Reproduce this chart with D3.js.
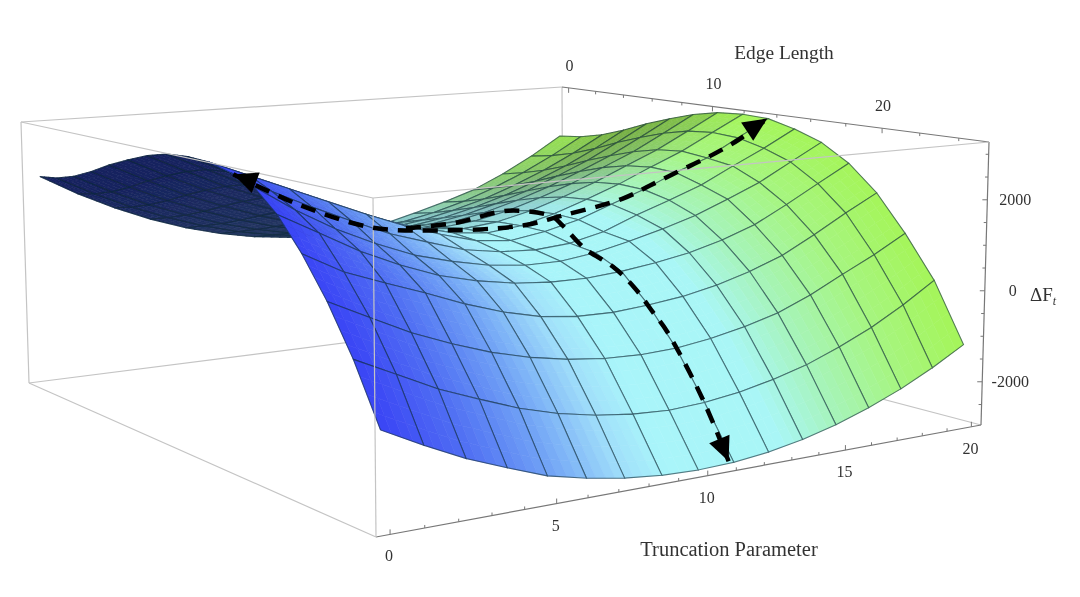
<!DOCTYPE html>
<html>
<head>
<meta charset="utf-8">
<script src="https://cdn.jsdelivr.net/npm/d3@7"></script>
<style>
  body { margin: 0; background: #fff; }
  text { font-family: "Liberation Serif", serif; fill: #333; }
</style>
</head>
<body>
<svg id="chart" width="1080" height="597"></svg>
<script>
// Truncation parameter along one side, edge length along the other
const truncation = d3.range(17).map(i => i * 1.25);
const edgeLength = d3.range(17).map(j => j * 1.5625);

// Delta F, one row per edge length, one column per truncation value
const deltaF = [
  [1980, 1500, 1085, 732, 443, 219, 58, -38, -70, -38, 58, 260, 480, 732, 1085, 1500, 1980],
  [2050, 1607, 1217, 886, 609, 390, 227, 127, 90, 127, 227, 390, 609, 886, 1217, 1607, 2050],
  [2190, 1763, 1383, 1061, 780, 564, 392, 281, 240, 281, 392, 564, 780, 1061, 1383, 1763, 2190],
  [2400, 1976, 1592, 1268, 981, 748, 563, 438, 390, 438, 563, 748, 981, 1268, 1592, 1976, 2400],
  [2650, 2224, 1829, 1501, 1199, 949, 745, 607, 550, 607, 745, 949, 1199, 1501, 1829, 2224, 2650],
  [2860, 2441, 2047, 1718, 1407, 1149, 929, 772, 710, 772, 929, 1149, 1407, 1718, 2047, 2441, 2860],
  [3050, 2637, 2239, 1912, 1589, 1317, 1081, 911, 840, 911, 1081, 1317, 1589, 1912, 2239, 2637, 3050],
  [3180, 2777, 2381, 2055, 1727, 1443, 1193, 1009, 930, 1009, 1193, 1443, 1727, 2055, 2381, 2777, 3180],
  [3220, 2830, 2439, 2121, 1785, 1497, 1234, 1034, 950, 1034, 1234, 1497, 1785, 2121, 2439, 2830, 3220],
  [3200, 2850, 2500, 2150, 1800, 1480, 1205, 980, 900, 1020, 1210, 1490, 1760, 2090, 2370, 2790, 3195],
  [3080, 2620, 2220, 1850, 1500, 1236, 987, 856, 813, 875, 1055, 1355, 1620, 1900, 2275, 2630, 3030],
  [2900, 2350, 1880, 1500, 1170, 950, 780, 690, 690, 790, 960, 1155, 1380, 1680, 1995, 2400, 2800],
  [2450, 2000, 1550, 1180, 875, 670, 530, 460, 450, 510, 610, 745, 945, 1210, 1590, 2000, 2405],
  [1800, 1350, 1040, 745, 430, 165, -30, -125, -140, -80, 10, 160, 370, 640, 1020, 1435, 1820],
  [1010, 600, 200, -120, -400, -610, -760, -850, -880, -850, -750, -600, -400, -105, 260, 610, 1010],
  [60, -335, -730, -1045, -1345, -1570, -1725, -1825, -1866, -1825, -1725, -1572, -1370, -1090, -770, -375, 80],
  [-1085, -1500, -1880, -2190, -2480, -2660, -2795, -2875, -2900, -2875, -2795, -2660, -2475, -2235, -1945, -1600, -1200]
];

const truncationTicks = [0, 5, 10, 15, 20];
const edgeTicks = [0, 10, 20];
const deltaTicks = [-2000, 0, 2000];

// Dashed paths over the surface, as truncation, edge length
const pathAcross = [[0, 15.8], [1.9, 16], [4.4, 15.6], [7.5, 13.2], [11.25, 12.5], [12.5, 13], [14.2, 14], [15.3, 14], [16.4, 14.06], [17.6, 14.06], [18.75, 14.2], [20, 14]];
const pathDown = [[9.5, 7.8], [11, 8.5], [12.5, 9.4], [12.3, 12.7], [11.9, 14.06], [11.25, 16.6], [11.2, 18.3], [11.25, 19.5], [11.25, 20.6], [11.3, 21.3], [11.25, 23.3], [11.1, 24.95]];

// Camera: where the corners of the plot box landed in the picture
const floorCorners = [[29, 383], [563, 315], [981, 425], [376, 537]];
const roofCorners = [[21, 122], [562, 87], [989, 142], [373, 198]];

const xScale = d3.scaleLinear().domain([-0.4, 20.4]).range([0, 1]);
const yScale = d3.scaleLinear().domain([-0.5, 25.5]).range([0, 1]);
const zScale = d3.scaleLinear().domain([-2950, 3270]).range([0, 1]);

// Square to quad homography, corners in order (0,0) (1,0) (1,1) (0,1)
function quadMap(q) {
  const dx1 = q[1][0] - q[2][0], dx2 = q[3][0] - q[2][0], sx = q[0][0] - q[1][0] + q[2][0] - q[3][0];
  const dy1 = q[1][1] - q[2][1], dy2 = q[3][1] - q[2][1], sy = q[0][1] - q[1][1] + q[2][1] - q[3][1];
  const den = dx1 * dy2 - dx2 * dy1;
  const g = (sx * dy2 - dx2 * sy) / den, h = (dx1 * sy - sx * dy1) / den;
  const a = q[1][0] - q[0][0] + g * q[1][0], b = q[3][0] - q[0][0] + h * q[3][0];
  const d = q[1][1] - q[0][1] + g * q[1][1], e = q[3][1] - q[0][1] + h * q[3][1];
  return (u, v) => {
    const w = g * u + h * v + 1;
    return [(a * u + b * v + q[0][0]) / w, (d * u + e * v + q[0][1]) / w];
  };
}
const floorMap = quadMap(floorCorners);
const roofMap = quadMap(roofCorners);

function project(x, y, z) {
  const u = xScale(x), v = yScale(y), t = zScale(z);
  const p0 = floorMap(u, v), p1 = roofMap(u, v);
  return [p0[0] + (p1[0] - p0[0]) * t, p0[1] + (p1[1] - p0[1]) * t];
}

// Height anywhere on the mesh, used for the sub-patches and the dashed paths
function heightAt(x, y) {
  const i = Math.min(15, Math.floor(x / 1.25)), j = Math.min(15, Math.floor(y / 1.5625));
  const a = x / 1.25 - i, b = y / 1.5625 - j;
  return (1 - b) * ((1 - a) * deltaF[j][i] + a * deltaF[j][i + 1]) + b * ((1 - a) * deltaF[j + 1][i] + a * deltaF[j + 1][i + 1]);
}

const colorScale = d3.scaleLinear()
  .domain([0, 2.5, 5, 7.5, 9, 13, 15, 17.5, 20])
  .range(['#3a44f5', '#4f6ef3', '#6fa0f5', '#a0dffa', '#a9f5fa', '#a9f6f6', '#a6f4bc', '#a6f580', '#a5f55a']);
const underScale = d3.scaleLinear().domain([0, 10]).range(['#141f5e', '#2a4060']);
const shadeScale = d3.scaleLinear().domain([0, 150]).range([1, 0.72]).clamp(true);

const svg = d3.select('#chart');
svg.append('defs').append('filter').attr('id', 'soft')
  .append('feGaussianBlur').attr('stdDeviation', 0.45);
const root = svg.append('g').attr('filter', 'url(#soft)');
root.append('rect').attr('width', 1080).attr('height', 597).attr('fill', '#fff');
const line = d3.line();
const boxBack = root.append('g');
const surface = root.append('g');
const boxFront = root.append('g');
const labels = root.append('g');

const xr = xScale.domain(), yr = yScale.domain(), zr = zScale.domain();
function edge(g, a, b, color) {
  g.append('path').attr('d', line([project(...a), project(...b)]))
    .attr('fill', 'none').attr('stroke', color).attr('stroke-width', 1.2);
}
// Far edges first
const pale = '#c4c4c4', dark = '#777';
edge(boxBack, [xr[0], yr[0], zr[0]], [xr[1], yr[0], zr[0]], pale);
edge(boxBack, [xr[1], yr[0], zr[0]], [xr[1], yr[1], zr[0]], pale);
edge(boxBack, [xr[1], yr[0], zr[0]], [xr[1], yr[0], zr[1]], pale);
edge(boxBack, [xr[0], yr[0], zr[1]], [xr[1], yr[0], zr[1]], pale);
edge(boxBack, [xr[0], yr[0], zr[0]], [xr[0], yr[0], zr[1]], pale);
edge(boxBack, [xr[0], yr[0], zr[0]], [xr[0], yr[1], zr[0]], pale);
edge(boxBack, [xr[1], yr[0], zr[1]], [xr[1], yr[1], zr[1]], dark);
edge(boxBack, [xr[0], yr[1], zr[0]], [xr[1], yr[1], zr[0]], dark);
edge(boxBack, [xr[1], yr[1], zr[0]], [xr[1], yr[1], zr[1]], dark);

// Painter's order: far corner of the grid first
const orient = Math.sign(d3.polygonArea([project(0, 0, 0), project(1, 0, 0), project(1, 1, 0), project(0, 1, 0)]));
const steps = 4;
for (let j = 0; j < 16; j++) {
  for (let i = 15; i >= 0; i--) {
    const dx = 1.25 / steps, dy = 1.5625 / steps;
    for (let b = 0; b < steps; b++) {
      for (let a = steps - 1; a >= 0; a--) {
        const x0 = truncation[i] + a * dx, y0 = edgeLength[j] + b * dy;
        const x1 = x0 + dx, y1 = y0 + dy;
        const z00 = heightAt(x0, y0), z10 = heightAt(x1 - 1e-6, y0), z11 = heightAt(x1 - 1e-6, y1 - 1e-6), z01 = heightAt(x0, y1 - 1e-6);
        const pts = [project(x0, y0, z00), project(x1, y0, z10), project(x1, y1, z11), project(x0, y1, z01)];
        const facing = Math.sign(d3.polygonArea(pts)) === orient;
        const slope = ((z01 + z11) - (z00 + z10)) / 2 / dy;
        const mid = (x0 + x1) / 2;
        const fill = facing
          ? d3.interpolateRgb('#000', colorScale(mid))(shadeScale(slope))
          : underScale(mid);
        surface.append('path').attr('d', line(pts) + 'Z')
          .attr('fill', fill).attr('stroke', fill).attr('stroke-width', 0.6);
      }
    }
    const outline = [
      project(truncation[i], edgeLength[j], deltaF[j][i]),
      project(truncation[i + 1], edgeLength[j], deltaF[j][i + 1]),
      project(truncation[i + 1], edgeLength[j + 1], deltaF[j + 1][i + 1]),
      project(truncation[i], edgeLength[j + 1], deltaF[j + 1][i])
    ];
    surface.append('path').attr('d', line(outline) + 'Z')
      .attr('fill', 'none').attr('stroke', '#0d2a35').attr('stroke-opacity', 0.6).attr('stroke-width', 1.1);
  }
}

// Near edges pass in front of the surface
edge(boxFront, [xr[0], yr[1], zr[0]], [xr[0], yr[1], zr[1]], pale);
edge(boxFront, [xr[0], yr[0], zr[1]], [xr[0], yr[1], zr[1]], pale);
edge(boxFront, [xr[0], yr[1], zr[1]], [xr[1], yr[1], zr[1]], pale);

// Axis ticks
function tick(a, b) {
  boxFront.append('path').attr('d', line([a, b])).attr('stroke', dark).attr('stroke-width', 1);
}
d3.range(0, 21, 1).forEach(v => {
  const p = project(v, yr[1], zr[0]);
  tick(p, [p[0], p[1] - (v % 5 ? 3 : 5)]);
});
d3.range(0, 26, 2).forEach(v => {
  const p = project(xr[1], v, zr[1]);
  tick(p, [p[0], p[1] + (v % 10 ? 3 : 5)]);
});
d3.range(-2500, 3001, 500).forEach(v => {
  const p = project(xr[1], yr[1], v);
  tick(p, [p[0] - (v % 2000 ? 3 : 5), p[1]]);
});

// Tick labels
truncationTicks.forEach(v => {
  const p = project(v, yr[1], zr[0]);
  labels.append('text').attr('x', p[0] - 1).attr('y', p[1] + 27).attr('text-anchor', 'middle').attr('font-size', 16).text(v);
});
edgeTicks.forEach(v => {
  const p = project(xr[1], v, zr[1]);
  labels.append('text').attr('x', p[0] + 1).attr('y', p[1] - 17).attr('text-anchor', 'middle').attr('font-size', 16).text(v);
});
deltaTicks.forEach(v => {
  const p = project(xr[1], yr[1], v);
  labels.append('text').attr('x', p[0] + 28).attr('y', p[1] + 5).attr('text-anchor', 'middle').attr('font-size', 16).text(v);
});
labels.append('text').attr('x', 784).attr('y', 59).attr('text-anchor', 'middle').attr('font-size', 19.4).text('Edge Length');
labels.append('text').attr('x', 729).attr('y', 556).attr('text-anchor', 'middle').attr('font-size', 20.5).text('Truncation Parameter');
const dF = labels.append('text').attr('x', 1030).attr('y', 301).attr('font-size', 19).text('\u0394F');
dF.append('tspan').attr('dy', 4).attr('font-size', 12).attr('font-style', 'italic').text('t');

// Dashed paths with solid heads
const curve = d3.line().curve(d3.curveCatmullRom);
function drawPath(data, heads) {
  const pts = data.map(d => project(d[0], d[1], heightAt(Math.min(d[0], 19.999), Math.min(d[1], 24.999))));
  labels.append('path').attr('d', curve(pts)).attr('fill', 'none')
    .attr('stroke', '#000').attr('stroke-width', 4.5).attr('stroke-dasharray', '15 10');
  heads.forEach(h => {
    const tip = pts[h.at], from = pts[h.from];
    const ang = Math.atan2(tip[1] - from[1], tip[0] - from[0]);
    const len = 24, half = 11;
    const bx = tip[0] - len * Math.cos(ang), by = tip[1] - len * Math.sin(ang);
    labels.append('path').attr('fill', '#000').attr('d', line([
      tip,
      [bx + half * Math.sin(ang), by - half * Math.cos(ang)],
      [bx - half * Math.sin(ang), by + half * Math.cos(ang)]
    ]) + 'Z');
  });
}
drawPath(pathAcross, [{at: 0, from: 2}, {at: pathAcross.length - 1, from: pathAcross.length - 3}]);
drawPath(pathDown, [{at: pathDown.length - 1, from: pathDown.length - 2}]);
</script>
</body>
</html>
